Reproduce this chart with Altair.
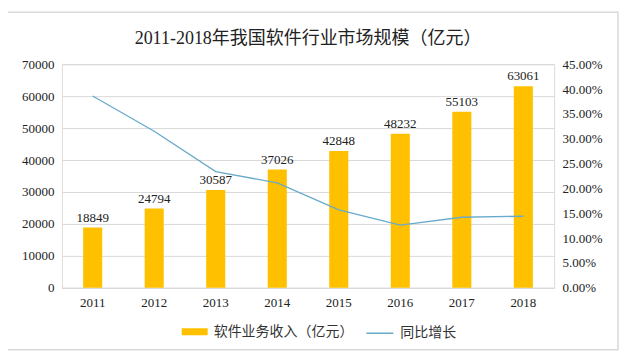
import altair as alt
import pandas as pd

years = ["2011", "2012", "2013", "2014", "2015", "2016", "2017", "2018"]
revenue = [18849, 24794, 30587, 37026, 42848, 48232, 55103, 63061]
growth = [0.386, 0.315, 0.234, 0.211, 0.157, 0.126, 0.142, 0.144]
bar_name = "软件业务收入（亿元）"
line_name = "同比增长"
title_text = "2011-2018年我国软件行业市场规模（亿元）"

df = pd.DataFrame({"年份": years, "收入": revenue, "增长": growth,
                   "s1": [bar_name] * 8, "s2": [line_name] * 8})

FONT = "Liberation Serif, Noto Sans CJK SC"
BAR = "#FFC000"
LINE = "#68AACB"

x = alt.X("年份:N", title=None, sort=years,
          scale=alt.Scale(paddingInner=0.69, paddingOuter=0.345),
          axis=alt.Axis(labelAngle=0, labelFont=FONT, labelFontSize=13, labelColor="#222",
                        ticks=False, domainColor="#D9D9D9", labelPadding=9))

yl = alt.Y("收入:Q", title=None, scale=alt.Scale(domain=[0, 70000]),
           axis=alt.Axis(values=list(range(0, 70001, 10000)), format="d", labelFont=FONT,
                         labelFontSize=13, labelColor="#222", ticks=False, domain=False,
                         gridColor="#D9D9D9", labelPadding=8))

base = alt.Chart(df)

bars = base.mark_bar().encode(
    x=x, y=yl,
    fill=alt.Fill("s1:N", scale=alt.Scale(domain=[bar_name], range=[BAR]),
                  legend=alt.Legend(title=None, orient="none", legendX=120, legendY=255,
                                    symbolType="M-1,-0.27L1,-0.27L1,0.27L-1,0.27Z",
                                    symbolSize=676, symbolStrokeWidth=0, labelFont=FONT,
                                    labelFontSize=14, labelColor="#333", labelOffset=6)))

labels = base.mark_text(dy=-10, font=FONT, fontSize=13, color="#222").encode(
    x=x, y=yl, text=alt.Text("收入:Q", format="d"))

left = alt.layer(bars, labels)

line = base.mark_line(strokeWidth=1.3).encode(
    x=x,
    y=alt.Y("增长:Q", title=None, scale=alt.Scale(domain=[0, 0.45]),
            axis=alt.Axis(orient="right", values=[i * 0.05 for i in range(10)], format=".2%",
                          labelFont=FONT, labelFontSize=13, labelColor="#222", ticks=False,
                          domain=False, grid=False, labelPadding=8)),
    stroke=alt.Stroke("s2:N", scale=alt.Scale(domain=[line_name], range=[LINE]),
                      legend=alt.Legend(title=None, orient="none", legendX=304, legendY=255,
                                        symbolType="stroke", symbolSize=729,
                                        symbolStrokeWidth=1.5, labelFont=FONT,
                                        labelFontSize=14, labelColor="#333", labelOffset=6)))

border = alt.Chart(alt.Data(values=[{"a": 1}])).mark_rect(
    fill=None, stroke="#D9D9D9", strokeWidth=1.5).encode(
    x=alt.value(-55), x2=alt.value(557), y=alt.value(-52), y2=alt.value(286))

chart = alt.layer(left, line, border).resolve_scale(
    y="independent", fill="independent", stroke="independent"
).properties(
    width=493, height=224,
    title=alt.TitleParams(title_text, font=FONT, fontSize=18, fontWeight="normal",
                          color="#222", anchor="middle", offset=-37),
    autosize=alt.AutoSizeParams(type="none"),
    padding={"left": 54, "top": 56, "right": 68, "bottom": 63},
).configure_view(stroke=None).configure(background="white")

chart.save("out.html", embed_options={"renderer": "svg", "actions": False})
